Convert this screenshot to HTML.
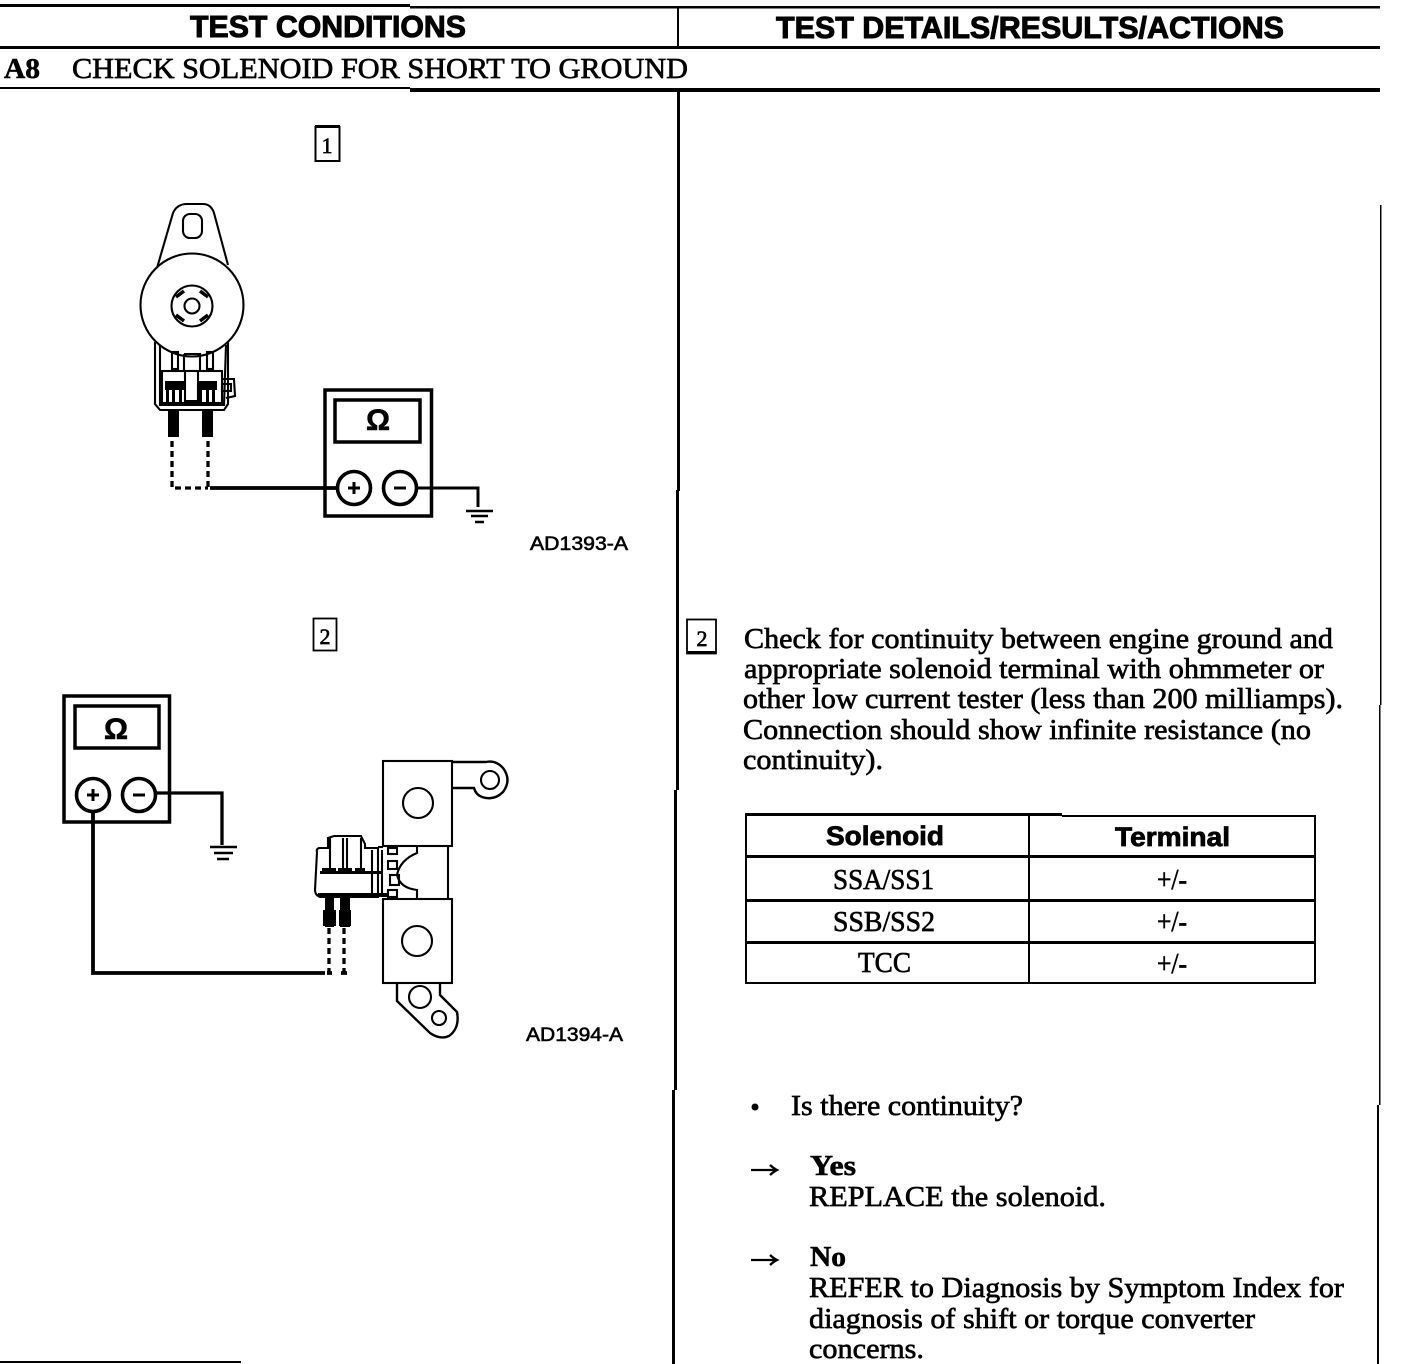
<!DOCTYPE html>
<html>
<head>
<meta charset="utf-8">
<style>
html,body{margin:0;padding:0;background:#fff;width:1408px;height:1364px;overflow:hidden}
svg{display:block}
.s{font-family:"Liberation Serif",serif;font-size:29px;fill:#000;stroke:#000;stroke-width:.65px}
.b{font-family:"Liberation Serif",serif;font-weight:bold;font-size:29px;fill:#000;stroke:#000;stroke-width:.6px}
.h{font-family:"Liberation Sans",sans-serif;font-weight:bold;font-size:31px;fill:#000;stroke:#000;stroke-width:1px}
.t{font-family:"Liberation Sans",sans-serif;font-weight:bold;font-size:27px;fill:#000;stroke:#000;stroke-width:.8px}
.l{font-family:"Liberation Sans",sans-serif;font-size:19px;fill:#000;stroke:#000;stroke-width:.6px}
.o{font-family:"Liberation Sans",sans-serif;font-weight:bold;font-size:30px;fill:#000;text-anchor:middle;stroke:#000;stroke-width:.6px}
.g{fill:none;stroke:#000;stroke-width:2.1}
.m{fill:none;stroke:#000;stroke-width:3.5}
</style>
</head>
<body>
<svg width="1408" height="1364" viewBox="0 0 1408 1364" xmlns="http://www.w3.org/2000/svg">
<rect width="1408" height="1364" fill="#fff"/>

<!-- frame lines -->
<g fill="#000">
<rect x="0" y="4" width="410" height="3"/>
<rect x="410" y="6" width="970" height="2.5"/>
<rect x="0" y="46" width="1380" height="3"/>
<rect x="0" y="87" width="410" height="2"/>
<rect x="410" y="88" width="970" height="4"/>
<rect x="677" y="8" width="2" height="39"/>
<rect x="677" y="91" width="3" height="400"/>
<rect x="676" y="490" width="3" height="300"/>
<rect x="674" y="790" width="3" height="300"/>
<rect x="672" y="1090" width="3" height="274"/>
<rect x="1380" y="205" width="1.5" height="500"/>
<rect x="1379" y="705" width="1.5" height="400"/>
<rect x="1377" y="1105" width="2" height="259"/>
<rect x="0" y="1361" width="241" height="2"/>
</g>

<!-- headers -->
<text class="h" x="190" y="37" textLength="276" lengthAdjust="spacingAndGlyphs">TEST CONDITIONS</text>
<text class="h" x="776" y="38" textLength="508" lengthAdjust="spacingAndGlyphs">TEST DETAILS/RESULTS/ACTIONS</text>
<text class="b" x="4" y="78" textLength="36" lengthAdjust="spacingAndGlyphs">A8</text>
<text class="s" x="72" y="78" textLength="616" lengthAdjust="spacingAndGlyphs">CHECK SOLENOID FOR SHORT TO GROUND</text>

<!-- step boxes -->
<rect x="315.500" y="127" width="24" height="34" fill="none" stroke="#000" stroke-width="2"/>
<rect x="315" y="125" width="25" height="3" fill="#000"/>
<text class="s" x="327" y="153" text-anchor="middle" style="font-size:22px">1</text>
<rect x="313.500" y="618.500" width="23" height="32" fill="none" stroke="#000" stroke-width="1.800"/>
<text class="s" x="325" y="644" text-anchor="middle" style="font-size:22px">2</text>
<rect x="687" y="619.500" width="29" height="34" fill="none" stroke="#000" stroke-width="1.800"/>
<rect x="687" y="651" width="29" height="3" fill="#000"/>
<text class="s" x="702" y="646" text-anchor="middle" style="font-size:22px">2</text>

<!-- ===== Figure 1 ===== -->
<g class="g">
<path d="M157 268 L173 213 Q177 204 187 204 L203 204 Q211 204 214 213 L228 265"/>
<rect x="183" y="214" width="19" height="24" rx="7"/>
<circle cx="192" cy="305" r="51.500" fill="#fff"/>
<circle cx="192" cy="306" r="20.500"/>
<circle cx="192" cy="306" r="7.500"/>
<path d="M176 297 L184 291 M200 291 L208 297 M176 315 L184 321 M200 321 L208 315" stroke-width="3.500"/>
<path d="M155 342 L155 404 L160 410 L224 410 L228 404 L228 342"/>
<path d="M160 345 L160 405 L224 405 L226 345"/>
<rect x="162" y="371" width="60" height="32"/>
<rect x="172" y="352" width="6" height="17"/>
<rect x="207" y="352" width="6" height="17"/>
<path d="M184 354 L200 354 L200 371 M184 354 L184 371"/>
<path d="M185 371 L185 401 L198 401 L198 371"/>
<path d="M222 379 L234 379 L235 396 L226 398"/>
<rect x="222" y="384" width="9" height="7"/>
</g>
<g fill="#000">
<rect x="165" y="381" width="19" height="9"/>
<rect x="197" y="381" width="20" height="9"/>
<rect x="166" y="390" width="3" height="13"/><rect x="172" y="390" width="3" height="13"/><rect x="179" y="390" width="3" height="13"/>
<rect x="199" y="390" width="3" height="13"/><rect x="206" y="390" width="3" height="13"/><rect x="212" y="390" width="3" height="13"/>
<rect x="168" y="410" width="11" height="27"/>
<rect x="202" y="410" width="11" height="27"/>
</g>
<path d="M172 441 V488 H208 M208 441 V488" fill="none" stroke="#000" stroke-width="3.300" stroke-dasharray="6 4"/>
<path d="M210 488 H337" stroke="#000" stroke-width="3.800" fill="none"/>
<rect x="325" y="390" width="106.500" height="126" class="m"/>
<rect x="335" y="400" width="85" height="42" class="m"/>
<text class="o" x="378" y="430">Ω</text>
<circle cx="354" cy="488" r="16.500" fill="#fff" stroke="#000" stroke-width="3.600"/>
<circle cx="400" cy="488" r="16.500" fill="#fff" stroke="#000" stroke-width="3.600"/>
<path d="M348 488 H360 M354 482 V494 M394 488 H406" stroke="#000" stroke-width="3"/>
<path d="M417 488 H478 V507" stroke="#000" stroke-width="3" fill="none"/>
<path d="M466 511 H493 M471 516 H488 M475 522 H484" stroke="#000" stroke-width="2.500"/>
<text class="l" x="530" y="550" textLength="98" lengthAdjust="spacingAndGlyphs">AD1393-A</text>

<!-- ===== Figure 2 ===== -->
<rect x="64" y="696" width="105.500" height="126" class="m"/>
<rect x="75" y="706" width="84" height="42" class="m"/>
<text class="o" x="116" y="739">Ω</text>
<circle cx="93" cy="795" r="16.500" fill="#fff" stroke="#000" stroke-width="3.600"/>
<circle cx="139" cy="795" r="16.500" fill="#fff" stroke="#000" stroke-width="3.600"/>
<path d="M87 795 H99 M93 789 V801 M133 795 H145" stroke="#000" stroke-width="3"/>
<path d="M156 793 H222 V845" stroke="#000" stroke-width="3.300" fill="none"/>
<path d="M210 847 H237 M214 853 H233 M217 859 H229" stroke="#000" stroke-width="2.500"/>
<path d="M93 812 V973 H325" stroke="#000" stroke-width="3.800" fill="none"/>
<path d="M329 928 V973 M344 928 V973" stroke="#000" stroke-width="3.300" fill="none" stroke-dasharray="6 4"/>
<path d="M327 973 H332 M341 973 H347" stroke="#000" stroke-width="3.800"/>

<g class="g">
<rect x="383" y="761" width="69" height="85"/>
<circle cx="418" cy="803" r="15"/>
<rect x="383" y="899" width="69" height="84"/>
<circle cx="417" cy="941" r="15"/>
<path d="M452 762 H486 Q496 760 503 768 Q512 780 503 792 Q494 801 482 797 Q476 795 474 788 H452" stroke-width="2.400"/>
<circle cx="490" cy="780" r="9"/>
<path d="M397 983 V1001 L430 1033 Q440 1040 449 1036 Q460 1028 457 1012 L440 995 V983" stroke-width="2.400"/>
<circle cx="420" cy="997" r="11"/>
<circle cx="439" cy="1018" r="7"/>
<path d="M448 846 V899"/>
<path d="M387 846 H417 L417 853 Q400 860 397 875 Q400 888 417 890 V899"/>
<path d="M378 847 H383"/>
<path d="M317 852 Q316 849 319 848 H328 V838 L334 836 H361 L365 844 V848 H378 V897 H320 Q315 895 315 890 Z"/>
<path d="M330 838 V870 M343 838 V870 M347 838 V870 M361 838 V870 M372 850 V895 M382 850 V895"/>
<rect x="388" y="848" width="9" height="6"/>
<rect x="388" y="861" width="9" height="8"/>
<rect x="390" y="875" width="9" height="10"/>
<rect x="388" y="890" width="9" height="7"/>
</g>
<g fill="#000">
<rect x="320" y="871" width="62" height="3"/>
<rect x="322" y="868" width="14" height="6"/>
<rect x="338" y="868" width="14" height="6"/>
<rect x="355" y="868" width="10" height="6"/>
<rect x="318" y="893" width="70" height="4"/>
<rect x="325" y="897" width="9" height="30"/>
<rect x="340" y="897" width="10" height="30"/>
<rect x="323" y="910" width="13" height="16"/>
<rect x="339" y="910" width="12" height="16"/>
</g>
<text class="l" x="526" y="1041" textLength="97" lengthAdjust="spacingAndGlyphs">AD1394-A</text>

<!-- ===== Right text ===== -->
<text class="s" x="744" y="648" textLength="589" lengthAdjust="spacingAndGlyphs">Check for continuity between engine ground and</text>
<text class="s" x="744" y="678" textLength="580" lengthAdjust="spacingAndGlyphs">appropriate solenoid terminal with ohmmeter or</text>
<text class="s" x="743" y="708" textLength="600" lengthAdjust="spacingAndGlyphs">other low current tester (less than 200 milliamps).</text>
<text class="s" x="743" y="739" textLength="568" lengthAdjust="spacingAndGlyphs">Connection should show infinite resistance (no</text>
<text class="s" x="743" y="769" textLength="140" lengthAdjust="spacingAndGlyphs">continuity).</text>

<!-- table -->
<g fill="#000">
<rect x="745" y="813" width="317" height="3"/>
<rect x="1062" y="815" width="254" height="2"/>
<rect x="745" y="855" width="570" height="3"/>
<rect x="745" y="899" width="570" height="3"/>
<rect x="745" y="941" width="570" height="3"/>
<rect x="745" y="982" width="571" height="2"/>
<rect x="745" y="814" width="2" height="170"/>
<rect x="1314" y="815" width="2" height="169"/>
<rect x="1028" y="814" width="2" height="170"/>
</g>
<text class="t" x="826" y="845" textLength="118" lengthAdjust="spacingAndGlyphs">Solenoid</text>
<text class="t" x="1115" y="846" textLength="115" lengthAdjust="spacingAndGlyphs">Terminal</text>
<text class="s" x="833" y="889" textLength="101" lengthAdjust="spacingAndGlyphs">SSA/SS1</text>
<text class="s" x="833" y="931" textLength="102" lengthAdjust="spacingAndGlyphs">SSB/SS2</text>
<text class="s" x="858" y="972" textLength="53" lengthAdjust="spacingAndGlyphs">TCC</text>
<text class="s" x="1157" y="889" textLength="30" lengthAdjust="spacingAndGlyphs">+/-</text>
<text class="s" x="1157" y="931" textLength="30" lengthAdjust="spacingAndGlyphs">+/-</text>
<text class="s" x="1157" y="973" textLength="30" lengthAdjust="spacingAndGlyphs">+/-</text>

<!-- bullet & answers -->
<circle cx="755" cy="1107" r="3.500" fill="#000"/>
<text class="s" x="791" y="1115" textLength="232" lengthAdjust="spacingAndGlyphs">Is there continuity?</text>

<path d="M751 1170 H776 M770 1165 Q773 1168 777 1170 Q773 1172 770 1175" fill="none" stroke="#000" stroke-width="2.300"/>
<text class="b" x="810" y="1175" textLength="46" lengthAdjust="spacingAndGlyphs">Yes</text>
<text class="s" x="809" y="1206" textLength="297" lengthAdjust="spacingAndGlyphs">REPLACE the solenoid.</text>

<path d="M751 1260 H776 M770 1255 Q773 1258 777 1260 Q773 1262 770 1265" fill="none" stroke="#000" stroke-width="2.300"/>
<text class="b" x="810" y="1266" textLength="36" lengthAdjust="spacingAndGlyphs">No</text>
<text class="s" x="809" y="1297" textLength="535" lengthAdjust="spacingAndGlyphs">REFER to Diagnosis by Symptom Index for</text>
<text class="s" x="809" y="1328" textLength="446" lengthAdjust="spacingAndGlyphs">diagnosis of shift or torque converter</text>
<text class="s" x="809" y="1358" textLength="115" lengthAdjust="spacingAndGlyphs">concerns.</text>
</svg>
</body>
</html>
